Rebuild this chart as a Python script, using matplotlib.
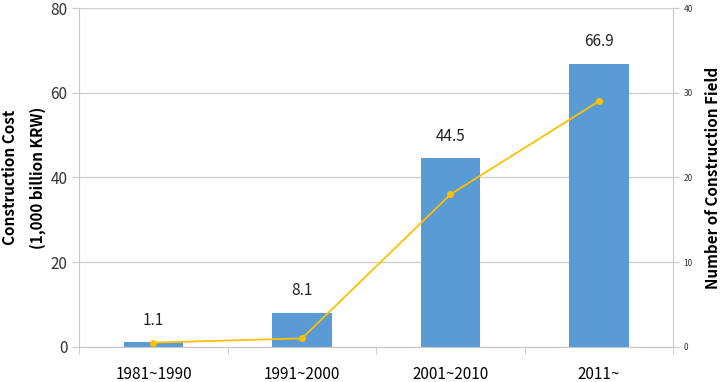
import matplotlib
matplotlib.use('Agg')
import matplotlib.pyplot as plt
import numpy as np

plt.rcParams['font.family'] = ['Noto Sans CJK KR', 'DejaVu Sans']

periods = ['1981~1990', '1991~2000', '2001~2010', '2011~']
cost = [1.1, 8.1, 44.5, 66.9]          # 1,000 billion KRW
fields = [0.5, 1.0, 18.0, 29.0]       # number of construction field

fig = plt.figure(figsize=(7.2, 3.82), dpi=100)
ax = fig.add_axes([0.11, 0.092, 0.825, 0.887])
x = np.arange(len(periods))

ax.bar(x, cost, width=0.4, color='#5B9BD5', zorder=2)
for xi, v in zip(x, cost):
    ax.text(xi, v + 3.2, f'{v}', ha='center', va='bottom', fontsize=11, color='#222222')

ax.set_xlim(-0.5, 3.5)
ax.set_ylim(0, 80)
ax.set_yticks([0, 20, 40, 60, 80])
ax.yaxis.grid(True, color='#d0d0d0', linewidth=1, zorder=0)
ax.set_axisbelow(True)
ax.set_xticks(x)
ax.set_xticklabels(periods, fontsize=11)
ax.set_xticks(np.arange(-0.5, 4, 1), minor=True)
ax.tick_params(axis='x', which='major', length=0, pad=14)
ax.tick_params(axis='x', which='minor', length=5, color='#c8c8c8')
ax.tick_params(axis='y', length=5, color='#c8c8c8', labelsize=11, colors='#333333')
for s in ['top', 'right']:
    ax.spines[s].set_visible(False)
for s in ['left', 'bottom']:
    ax.spines[s].set_color('#c8c8c8')
ax.set_ylabel('Construction Cost\n(1,000 billion KRW)', fontsize=11, fontweight='bold',
              linespacing=1.9)
ax.yaxis.set_label_coords(-0.056, 0.5)

ax2 = ax.twinx()
ax2.plot(x, fields, color='#FFC000', marker='o', markersize=4, linewidth=1.3, zorder=3)
ax2.set_ylim(0, 40)
ax2.set_yticks([0, 10, 20, 30, 40])
ax2.tick_params(axis='y', length=4, color='#c8c8c8', labelsize=6, colors='#333333')
for s in ['top', 'left', 'bottom']:
    ax2.spines[s].set_visible(False)
ax2.spines['right'].set_color('#c8c8c8')
ax2.set_ylabel('Number of Construction Field', fontsize=11, fontweight='bold')
ax2.yaxis.set_label_coords(1.054, 0.5)

fig.savefig('out.png', dpi=100)
